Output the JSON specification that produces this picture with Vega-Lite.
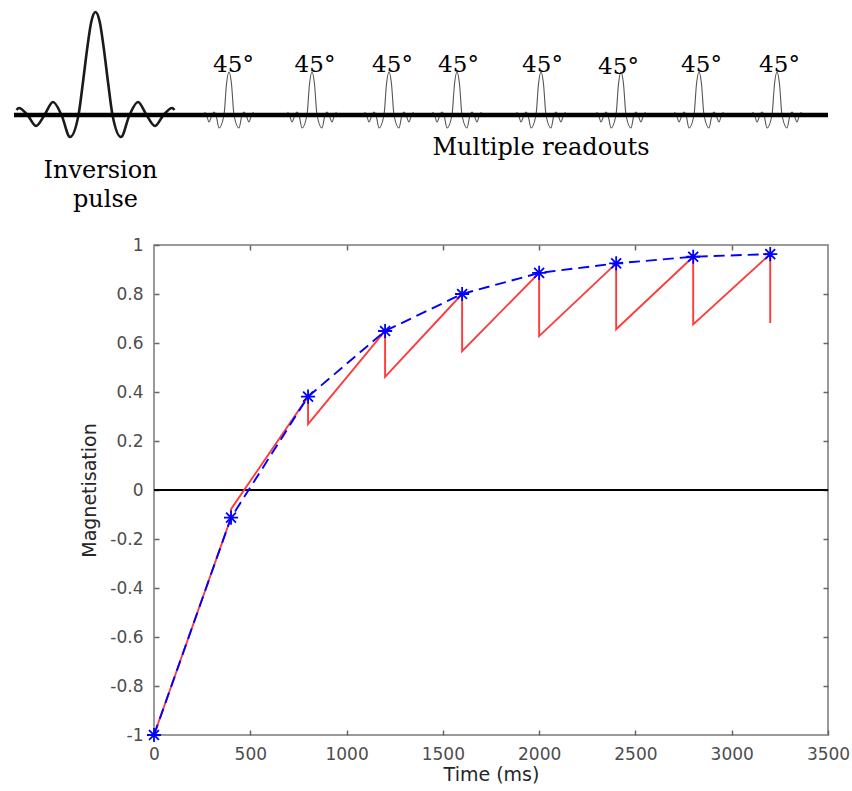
{
  "$schema": "https://vega.github.io/schema/vega-lite/v6.json",
  "background": "white",
  "padding": {"left": 5, "top": 0, "right": 0, "bottom": 0},
  "spacing": 30,
  "bounds": "flush",
  "config": {"view": {"stroke": null}, "font": "DejaVu Sans"},
  "datasets": {
    "base": [{"x": 14, "v": 0}, {"x": 828, "v": 0}],
    "inversion": [
      {"x": 16.5, "v": 5}, {"x": 19, "v": 7}, {"x": 27.5, "v": 0}, {"x": 36, "v": -11}, {"x": 44.5, "v": 0},
      {"x": 53, "v": 13}, {"x": 61.5, "v": 0}, {"x": 70, "v": -22}, {"x": 78.5, "v": 0}, {"x": 82.75, "v": 31},
      {"x": 87, "v": 65}, {"x": 91.25, "v": 93}, {"x": 95.5, "v": 103}, {"x": 99.75, "v": 93}, {"x": 104, "v": 65},
      {"x": 108.25, "v": 31}, {"x": 112.5, "v": 0}, {"x": 121, "v": -22}, {"x": 129.5, "v": 0}, {"x": 138, "v": 13},
      {"x": 146.5, "v": 0}, {"x": 155, "v": -11}, {"x": 163.5, "v": 0}, {"x": 172, "v": 7}, {"x": 174.5, "v": 5}
    ],
    "readouts": [
      {"p": 1, "x": 204.5, "v": 3}, {"p": 1, "x": 206.5, "v": 0}, {"p": 1, "x": 209, "v": -7}, {"p": 1, "x": 212, "v": 0}, {"p": 1, "x": 214, "v": 3}, {"p": 1, "x": 216, "v": 0}, {"p": 1, "x": 219, "v": -13}, {"p": 1, "x": 224, "v": 0}, {"p": 1, "x": 226.5, "v": 31}, {"p": 1, "x": 229, "v": 43}, {"p": 1, "x": 231.5, "v": 31}, {"p": 1, "x": 234, "v": 0}, {"p": 1, "x": 239, "v": -13}, {"p": 1, "x": 242, "v": 0}, {"p": 1, "x": 244, "v": 3}, {"p": 1, "x": 246, "v": 0}, {"p": 1, "x": 249, "v": -7}, {"p": 1, "x": 251.5, "v": 0}, {"p": 1, "x": 253.5, "v": 3},
      {"p": 2, "x": 287.5, "v": 3}, {"p": 2, "x": 289.5, "v": 0}, {"p": 2, "x": 292, "v": -7}, {"p": 2, "x": 295, "v": 0}, {"p": 2, "x": 297, "v": 3}, {"p": 2, "x": 299, "v": 0}, {"p": 2, "x": 302, "v": -13}, {"p": 2, "x": 307, "v": 0}, {"p": 2, "x": 309.5, "v": 31}, {"p": 2, "x": 312, "v": 43}, {"p": 2, "x": 314.5, "v": 31}, {"p": 2, "x": 317, "v": 0}, {"p": 2, "x": 322, "v": -13}, {"p": 2, "x": 325, "v": 0}, {"p": 2, "x": 327, "v": 3}, {"p": 2, "x": 329, "v": 0}, {"p": 2, "x": 332, "v": -7}, {"p": 2, "x": 334.5, "v": 0}, {"p": 2, "x": 336.5, "v": 3},
      {"p": 3, "x": 364.5, "v": 3}, {"p": 3, "x": 366.5, "v": 0}, {"p": 3, "x": 369, "v": -7}, {"p": 3, "x": 372, "v": 0}, {"p": 3, "x": 374, "v": 3}, {"p": 3, "x": 376, "v": 0}, {"p": 3, "x": 379, "v": -13}, {"p": 3, "x": 384, "v": 0}, {"p": 3, "x": 386.5, "v": 31}, {"p": 3, "x": 389, "v": 43}, {"p": 3, "x": 391.5, "v": 31}, {"p": 3, "x": 394, "v": 0}, {"p": 3, "x": 399, "v": -13}, {"p": 3, "x": 402, "v": 0}, {"p": 3, "x": 404, "v": 3}, {"p": 3, "x": 406, "v": 0}, {"p": 3, "x": 409, "v": -7}, {"p": 3, "x": 411.5, "v": 0}, {"p": 3, "x": 413.5, "v": 3},
      {"p": 4, "x": 432.5, "v": 3}, {"p": 4, "x": 434.5, "v": 0}, {"p": 4, "x": 437, "v": -7}, {"p": 4, "x": 440, "v": 0}, {"p": 4, "x": 442, "v": 3}, {"p": 4, "x": 444, "v": 0}, {"p": 4, "x": 447, "v": -13}, {"p": 4, "x": 452, "v": 0}, {"p": 4, "x": 454.5, "v": 31}, {"p": 4, "x": 457, "v": 43}, {"p": 4, "x": 459.5, "v": 31}, {"p": 4, "x": 462, "v": 0}, {"p": 4, "x": 467, "v": -13}, {"p": 4, "x": 470, "v": 0}, {"p": 4, "x": 472, "v": 3}, {"p": 4, "x": 474, "v": 0}, {"p": 4, "x": 477, "v": -7}, {"p": 4, "x": 479.5, "v": 0}, {"p": 4, "x": 481.5, "v": 3},
      {"p": 5, "x": 516.5, "v": 3}, {"p": 5, "x": 518.5, "v": 0}, {"p": 5, "x": 521, "v": -7}, {"p": 5, "x": 524, "v": 0}, {"p": 5, "x": 526, "v": 3}, {"p": 5, "x": 528, "v": 0}, {"p": 5, "x": 531, "v": -13}, {"p": 5, "x": 536, "v": 0}, {"p": 5, "x": 538.5, "v": 31}, {"p": 5, "x": 541, "v": 43}, {"p": 5, "x": 543.5, "v": 31}, {"p": 5, "x": 546, "v": 0}, {"p": 5, "x": 551, "v": -13}, {"p": 5, "x": 554, "v": 0}, {"p": 5, "x": 556, "v": 3}, {"p": 5, "x": 558, "v": 0}, {"p": 5, "x": 561, "v": -7}, {"p": 5, "x": 563.5, "v": 0}, {"p": 5, "x": 565.5, "v": 3},
      {"p": 6, "x": 596.5, "v": 3}, {"p": 6, "x": 598.5, "v": 0}, {"p": 6, "x": 601, "v": -7}, {"p": 6, "x": 604, "v": 0}, {"p": 6, "x": 606, "v": 3}, {"p": 6, "x": 608, "v": 0}, {"p": 6, "x": 611, "v": -13}, {"p": 6, "x": 616, "v": 0}, {"p": 6, "x": 618.5, "v": 31}, {"p": 6, "x": 621, "v": 43}, {"p": 6, "x": 623.5, "v": 31}, {"p": 6, "x": 626, "v": 0}, {"p": 6, "x": 631, "v": -13}, {"p": 6, "x": 634, "v": 0}, {"p": 6, "x": 636, "v": 3}, {"p": 6, "x": 638, "v": 0}, {"p": 6, "x": 641, "v": -7}, {"p": 6, "x": 643.5, "v": 0}, {"p": 6, "x": 645.5, "v": 3},
      {"p": 7, "x": 674.5, "v": 3}, {"p": 7, "x": 676.5, "v": 0}, {"p": 7, "x": 679, "v": -7}, {"p": 7, "x": 682, "v": 0}, {"p": 7, "x": 684, "v": 3}, {"p": 7, "x": 686, "v": 0}, {"p": 7, "x": 689, "v": -13}, {"p": 7, "x": 694, "v": 0}, {"p": 7, "x": 696.5, "v": 31}, {"p": 7, "x": 699, "v": 43}, {"p": 7, "x": 701.5, "v": 31}, {"p": 7, "x": 704, "v": 0}, {"p": 7, "x": 709, "v": -13}, {"p": 7, "x": 712, "v": 0}, {"p": 7, "x": 714, "v": 3}, {"p": 7, "x": 716, "v": 0}, {"p": 7, "x": 719, "v": -7}, {"p": 7, "x": 721.5, "v": 0}, {"p": 7, "x": 723.5, "v": 3},
      {"p": 8, "x": 752.5, "v": 3}, {"p": 8, "x": 754.5, "v": 0}, {"p": 8, "x": 757, "v": -7}, {"p": 8, "x": 760, "v": 0}, {"p": 8, "x": 762, "v": 3}, {"p": 8, "x": 764, "v": 0}, {"p": 8, "x": 767, "v": -13}, {"p": 8, "x": 772, "v": 0}, {"p": 8, "x": 774.5, "v": 31}, {"p": 8, "x": 777, "v": 43}, {"p": 8, "x": 779.5, "v": 31}, {"p": 8, "x": 782, "v": 0}, {"p": 8, "x": 787, "v": -13}, {"p": 8, "x": 790, "v": 0}, {"p": 8, "x": 792, "v": 3}, {"p": 8, "x": 794, "v": 0}, {"p": 8, "x": 797, "v": -7}, {"p": 8, "x": 799.5, "v": 0}, {"p": 8, "x": 801.5, "v": 3}
    ],
    "flips": [
      {"x": 233.5, "v": 43, "t": "45°"}, {"x": 315, "v": 43, "t": "45°"}, {"x": 392.5, "v": 43, "t": "45°"}, {"x": 458.5, "v": 43, "t": "45°"},
      {"x": 542.5, "v": 43, "t": "45°"}, {"x": 618.5, "v": 41, "t": "45°"}, {"x": 701.5, "v": 43, "t": "45°"}, {"x": 779.5, "v": 43, "t": "45°"}
    ],
    "labels": [
      {"x": 100.5, "v": -63, "t": "Inversion"}, {"x": 105.5, "v": -92, "t": "pulse"}, {"x": 541, "v": -40, "t": "Multiple readouts"}
    ],
    "stars": [
      {"t": 0, "m": -1}, {"t": 400, "m": -0.113}, {"t": 800, "m": 0.381}, {"t": 1200, "m": 0.649}, {"t": 1600, "m": 0.8},
      {"t": 2000, "m": 0.886}, {"t": 2400, "m": 0.925}, {"t": 2800, "m": 0.952}, {"t": 3200, "m": 0.963}
    ],
    "red": [
      {"i": 1, "t": 0, "m": -1}, {"i": 2, "t": 400, "m": -0.113}, {"i": 3, "t": 400, "m": -0.078}, {"i": 4, "t": 800, "m": 0.381},
      {"i": 5, "t": 800, "m": 0.269}, {"i": 6, "t": 1200, "m": 0.649}, {"i": 7, "t": 1200, "m": 0.462}, {"i": 8, "t": 1600, "m": 0.8},
      {"i": 9, "t": 1600, "m": 0.567}, {"i": 10, "t": 2000, "m": 0.886}, {"i": 11, "t": 2000, "m": 0.628}, {"i": 12, "t": 2400, "m": 0.925},
      {"i": 13, "t": 2400, "m": 0.656}, {"i": 14, "t": 2800, "m": 0.952}, {"i": 15, "t": 2800, "m": 0.676}, {"i": 16, "t": 3200, "m": 0.963},
      {"i": 17, "t": 3200, "m": 0.682}
    ],
    "zero": [{"m": 0}]
  },
  "vconcat": [
    {
      "width": 674,
      "height": 215,
      "view": {"stroke": null},
      "encoding": {
        "x": {"field": "x", "type": "quantitative", "scale": {"domain": [154, 828], "nice": false, "zero": false}, "axis": null},
        "y": {"field": "v", "type": "quantitative", "scale": {"domain": [-100, 115], "nice": false, "zero": false}, "axis": null}
      },
      "layer": [
        {"data": {"name": "inversion"}, "mark": {"type": "line", "color": "#1a1a1a", "strokeWidth": 2.6, "interpolate": "monotone"}},
        {"data": {"name": "readouts"}, "mark": {"type": "line", "color": "#555555", "strokeWidth": 1.1, "interpolate": "monotone"}, "encoding": {"detail": {"field": "p", "type": "nominal"}}},
        {"data": {"name": "base"}, "mark": {"type": "line", "color": "#000000", "strokeWidth": 4.5}},
        {"data": {"name": "flips"}, "mark": {"type": "text", "font": "DejaVu Serif", "fontSize": 23, "align": "center", "baseline": "alphabetic", "color": "#000000"}, "encoding": {"text": {"field": "t", "type": "nominal"}}},
        {"data": {"name": "labels"}, "mark": {"type": "text", "font": "DejaVu Serif", "fontSize": 24, "align": "center", "baseline": "alphabetic", "color": "#000000"}, "encoding": {"text": {"field": "t", "type": "nominal"}}}
      ]
    },
    {
      "width": 674,
      "height": 490,
      "view": {"stroke": "#7a7a7a", "strokeWidth": 1.5},
      "resolve": {"axis": {"x": "independent", "y": "independent"}},
      "layer": [
        {
          "data": {"name": "zero"},
          "mark": {"type": "rule", "color": "#000000", "strokeWidth": 2},
          "encoding": {"y": {"field": "m", "type": "quantitative", "scale": {"domain": [-1, 1], "nice": false}, "axis": null}}
        },
        {
          "data": {"name": "red"},
          "mark": {"type": "line", "color": "#ff3b3b", "strokeWidth": 1.9},
          "encoding": {
            "x": {"field": "t", "type": "quantitative", "scale": {"domain": [0, 3500], "nice": false},
              "axis": {"orient": "bottom", "values": [0, 500, 1000, 1500, 2000, 2500, 3000, 3500], "format": "d", "domain": false, "grid": false, "labelFlush": false,
                "tickSize": -5, "tickColor": "#666666", "tickWidth": 1.5, "labelFont": "DejaVu Sans", "labelFontSize": 17, "labelColor": "#4d4d4d", "labelPadding": 16,
                "title": "Time (ms)", "titleFont": "DejaVu Sans", "titleFontSize": 19, "titleFontWeight": "normal", "titleColor": "#262626", "titlePadding": 3}},
            "y": {"field": "m", "type": "quantitative", "scale": {"domain": [-1, 1], "nice": false},
              "axis": {"orient": "left", "values": [-1, -0.8, -0.6, -0.4, -0.2, 0, 0.2, 0.4, 0.6, 0.8, 1], "format": "~g", "labelExpr": "replace(datum.label, '−', '-')", "domain": false, "grid": false, "labelFlush": false,
                "tickSize": -5, "tickColor": "#666666", "tickWidth": 1.5, "labelFont": "DejaVu Sans", "labelFontSize": 17, "labelColor": "#4d4d4d", "labelPadding": 16,
                "title": "Magnetisation", "titleFont": "DejaVu Sans", "titleFontSize": 19, "titleFontWeight": "normal", "titleColor": "#262626", "titlePadding": 10}},
            "order": {"field": "i", "type": "quantitative"}
          }
        },
        {
          "data": {"name": "stars"},
          "mark": {"type": "line", "color": "#0000ff", "strokeWidth": 1.9, "strokeDash": [11, 6]},
          "encoding": {
            "x": {"field": "t", "type": "quantitative", "scale": {"domain": [0, 3500], "nice": false},
              "axis": {"orient": "top", "values": [500, 1000, 1500, 2000, 2500, 3000], "labels": false, "title": null, "domain": false, "grid": false, "tickSize": -5, "tickColor": "#666666", "tickWidth": 1.5}},
            "y": {"field": "m", "type": "quantitative", "scale": {"domain": [-1, 1], "nice": false},
              "axis": {"orient": "right", "values": [-0.8, -0.6, -0.4, -0.2, 0, 0.2, 0.4, 0.6, 0.8], "labels": false, "title": null, "domain": false, "grid": false, "tickSize": -5, "tickColor": "#666666", "tickWidth": 1.5}}
          }
        },
        {
          "data": {"name": "stars"},
          "mark": {"type": "point", "shape": "M-1,0L1,0M0,-1L0,1M-0.7,-0.7L0.7,0.7M-0.7,0.7L0.7,-0.7", "filled": false, "color": "#0000ff", "strokeWidth": 1.8, "size": 200, "opacity": 1},
          "encoding": {
            "x": {"field": "t", "type": "quantitative", "scale": {"domain": [0, 3500], "nice": false}, "axis": null},
            "y": {"field": "m", "type": "quantitative", "scale": {"domain": [-1, 1], "nice": false}, "axis": null}
          }
        }
      ]
    }
  ]
}
